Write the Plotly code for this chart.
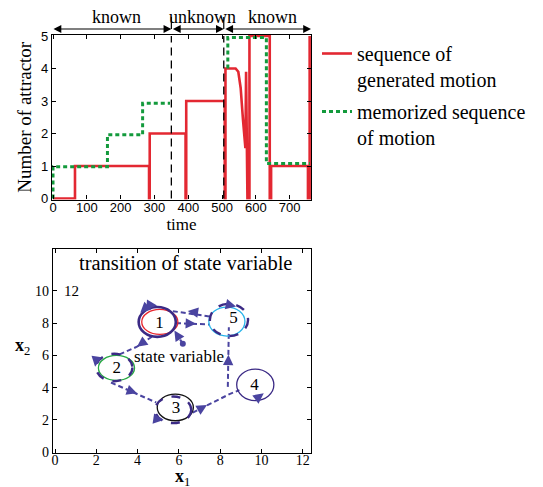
import plotly.graph_objects as go

# ---------------- data: top chart ----------------
gen_t = [0, 65, 65, 284, 284, 286, 286, 392, 392, 394, 394, 508, 508, 510, 510, 540, 548, 555, 562, 569, 571, 575,
         579, 581, 581, 641, 641, 645, 645, 754, 754, 759, 759]
gen_y = [0, 0, 1, 1, 0, 0, 2, 2, 0, 0, 3, 3, 0, 0, 4, 4, 3.9, 3.4, 2.4, 1.55, 3.9, 0,
         0, 0, 5, 5, 0, 0, 1, 1, 0, 0, 5]
mem_t = [0, 0, 161, 161, 265, 265, 346, None, 517, 517, 631, 631, 760]
mem_y = [0, 0.98, 0.98, 1.96, 1.96, 2.93, 2.93, None, 4.0, 4.95, 4.95, 1.08, 1.08]
phase_bounds = [-3, 350, 505, 763]
phase_labels = ["known", "unknown", "known"]
phase_label_t = [189, 441, 648]
time_ticks = [0, 100, 200, 300, 400, 500, 600, 700]
attr_ticks = [0, 1, 2, 3, 4, 5]

# ---------------- data: bottom chart ----------------
attr_ids = ["1", "2", "3", "4", "5"]
label_x = [5.06, 2.99, 5.86, 9.66, 8.64]
label_y = [7.95, 5.2, 2.7, 4.15, 8.3]
outer_x0 = [4.05, 1.99, 4.85, 8.8, 7.5]
outer_x1 = [5.85, 3.75, 6.6, 10.6, 9.35]
outer_y0 = [7.15, 4.4, 1.8, 3.2, 7.2]
outer_y1 = [9.0, 6.1, 3.45, 5.15, 9.2]
inner_x0 = [4.2, 2.1, 4.95, None, 7.45]
inner_x1 = [5.95, 3.85, 6.7, None, 9.2]
inner_y0 = [7.3, 4.45, 1.95, None, 7.2]
inner_y1 = [8.85, 6.0, 3.6, None, 9.0]
inner_colors = ["#e8242c", "#27a844", "#111111", None, "#27b4ea"]
outer_dash = ["solid", "dash", "dash", "solid", "dash"]
outer_width = [2.6, 2.4, 2.4, 1.3, 2.4]

trans_paths = [
    ([7.48, 5.46], [8.42, 8.79]),
    ([5.86, 7.48], [8.0, 7.92]),
    ([6.19, 5.78], [6.72, 7.55]),
    ([4.69, 3.97, 3.1], [7.16, 6.54, 6.05]),
    ([2.71, 4.9], [4.32, 3.08]),
    ([6.67, 8.45, 8.93], [2.45, 3.6, 3.85]),
    ([8.37, 8.42], [4.05, 7.75]),
]
head_x = [6.43, 6.83, 5.78, 3.97, 3.97, 7.36, 8.4, 4.13, 4.94, 1.94, 5.26, 10.11, 8.77]
head_y = [8.75, 7.96, 7.55, 6.54, 3.65, 2.92, 6.05, 8.65, 9.1, 5.3, 1.99, 3.65, 9.04]
tail_x = [6.8, 6.45, 5.98, 4.3, 3.6, 7.0, 8.39, 4.3, 4.7, 2.0, 4.95, 9.85, 8.5]
tail_y = [8.68, 7.98, 7.15, 6.85, 3.82, 2.66, 5.6, 8.85, 9.12, 5.8, 2.05, 3.4, 9.12]
start_x = [6.19]
start_y = [6.72]
x1_ticks = [0, 2, 4, 6, 8, 10, 12]
x2_ticks = [0, 2, 4, 6, 8, 10]

SERIF = "Liberation Serif"
SANS = "Liberation Sans"
RED = "#e32832"
GREEN = "#139a3c"
PURPLE = "#3b2a85"
ARROWC = "#4a44a0"

W, H, OFF = 543, 487, 8  # page body adds an 8px margin


def fx(p):
    return (p - OFF) / W


def fy(p):
    return 1 - (p - OFF) / H


fig = go.Figure()

fig.add_trace(go.Scatter(x=gen_t, y=gen_y, mode="lines", name="sequence of<br>generated motion",
                         line=dict(color=RED, width=2.6), legendgroup="a", xaxis="x", yaxis="y"))
fig.add_trace(go.Scatter(x=mem_t, y=mem_y, mode="lines", name="memorized sequence<br>of motion",
                         line=dict(color=GREEN, width=3, dash="4px,3px"), legendgroup="b",
                         connectgaps=False, xaxis="x", yaxis="y"))

# transitions (bottom)
px, py = [], []
for xs, ys in trans_paths:
    px += xs + [None]
    py += ys + [None]
fig.add_trace(go.Scatter(x=px, y=py, mode="lines", showlegend=False,
                         line=dict(color=ARROWC, width=2, dash="5px,3px"), xaxis="x2", yaxis="y2"))
fig.add_trace(go.Scatter(x=start_x, y=start_y, mode="markers", showlegend=False,
                         marker=dict(color=ARROWC, size=6), xaxis="x2", yaxis="y2"))
fig.add_trace(go.Scatter(x=label_x, y=label_y, mode="text", text=attr_ids, showlegend=False,
                         textfont=dict(family=SERIF, size=17, color="black"), xaxis="x2", yaxis="y2"))

shapes = []
for b in phase_bounds[1:3]:
    shapes.append(dict(type="line", xref="x", yref="y", x0=b, x1=b, y0=0, y1=5,
                       line=dict(color="black", width=1.3, dash="8px,5px")))
    shapes.append(dict(type="line", xref="x", yref="paper", x0=b, x1=b, y0=fy(29), y1=fy(17),
                       line=dict(color="black", width=1.2)))
for i in range(len(attr_ids)):
    if inner_colors[i] is not None:
        shapes.append(dict(type="circle", xref="x2", yref="y2", x0=inner_x0[i], x1=inner_x1[i],
                           y0=inner_y0[i], y1=inner_y1[i], line=dict(color=inner_colors[i], width=1.3)))
    shapes.append(dict(type="circle", xref="x2", yref="y2", x0=outer_x0[i], x1=outer_x1[i],
                       y0=outer_y0[i], y1=outer_y1[i],
                       line=dict(color=PURPLE, width=outer_width[i], dash=outer_dash[i])))

annotations = []
for i in range(3):
    annotations.append(dict(xref="x", yref="paper", x=phase_bounds[i + 1], y=fy(29),
                            axref="x", ayref="pixel", ax=phase_bounds[i], ay=0,
                            showarrow=True, arrowhead=2, arrowside="end+start", arrowsize=1.3,
                            arrowwidth=1.2, arrowcolor="black", text=""))
    annotations.append(dict(xref="x", yref="paper", x=phase_label_t[i], y=fy(17), text=phase_labels[i],
                            xanchor="center", yanchor="middle",
                            showarrow=False, font=dict(family=SERIF, size=18, color="black")))
for hx, hy, tx, ty in zip(head_x, head_y, tail_x, tail_y):
    annotations.append(dict(xref="x2", yref="y2", x=hx, y=hy, axref="x2", ayref="y2", ax=tx, ay=ty,
                            showarrow=True, arrowhead=2, arrowsize=1.3, arrowwidth=1.6,
                            arrowcolor=ARROWC, text=""))
annotations.append(dict(xref="x2", yref="y2", x=6.0, y=5.96, text="state variable", showarrow=False,
                        xanchor="center", yanchor="middle",
                        font=dict(family=SERIF, size=17, color="black")))
annotations.append(dict(xref="x2", yref="y2", x=0.81, y=10.0, text="12", showarrow=False,
                        xanchor="center", yanchor="middle",
                        font=dict(family=SERIF, size=15, color="black")))
annotations.append(dict(xref="paper", yref="paper", x=fx(185.5), y=fy(263),
                        text="transition of state variable", showarrow=False,
                        xanchor="center", yanchor="middle",
                        font=dict(family=SERIF, size=20.5, color="black")))
annotations.append(dict(xref="paper", yref="paper", x=fx(182), y=fy(477),
                        text="<b>x</b><sub>1</sub>", showarrow=False,
                        xanchor="center", yanchor="middle",
                        font=dict(family=SERIF, size=18, color="black")))
annotations.append(dict(xref="paper", yref="paper", x=fx(22), y=fy(346),
                        text="<b>x</b><sub>2</sub>", showarrow=False,
                        xanchor="center", yanchor="middle",
                        font=dict(family=SERIF, size=18, color="black")))

axis_common = dict(showline=True, linecolor="black", linewidth=1.3, mirror="allticks", ticks="inside",
                   ticklen=4, tickcolor="black", showgrid=False, zeroline=False, automargin=False)

fig.update_layout(
    width=W, height=H, margin=dict(l=0, r=0, t=0, b=0, autoexpand=False),
    paper_bgcolor="white", plot_bgcolor="white",
    xaxis=dict(domain=[fx(52), fx(311)], range=[-3, 763], tickvals=time_ticks, ticklabelstandoff=-4,
               tickfont=dict(family=SANS, size=13, color="black"), anchor="y",
               title=dict(text="time", font=dict(family=SERIF, size=17, color="black"), standoff=0),
               **axis_common),
    yaxis=dict(domain=[fy(199.5), fy(35)], range=[-0.03, 5.03], tickvals=attr_ticks,
               tickfont=dict(family=SANS, size=13, color="black"), anchor="x",
               title=dict(text="Number of attractor", font=dict(family=SERIF, size=19, color="black"),
                          standoff=4),
               **axis_common),
    xaxis2=dict(domain=[fx(53), fx(311)], range=[-0.1, 12.4], tickvals=x1_ticks, ticklabelstandoff=-6,
                tickfont=dict(family=SERIF, size=14, color="black"), anchor="y2", **axis_common),
    yaxis2=dict(domain=[fy(453), fy(249)], range=[-0.05, 12.6], tickvals=x2_ticks,
                tickfont=dict(family=SERIF, size=14, color="black"), anchor="x2", **axis_common),
    showlegend=True,
    legend=dict(x=fx(317), y=fy(34), xanchor="left", yanchor="top", bgcolor="rgba(0,0,0,0)",
                font=dict(family=SERIF, size=20, color="black"), valign="top",
                traceorder="grouped", tracegroupgap=3, itemwidth=30),
    shapes=shapes, annotations=annotations,
)

fig.write_html("out.html")
